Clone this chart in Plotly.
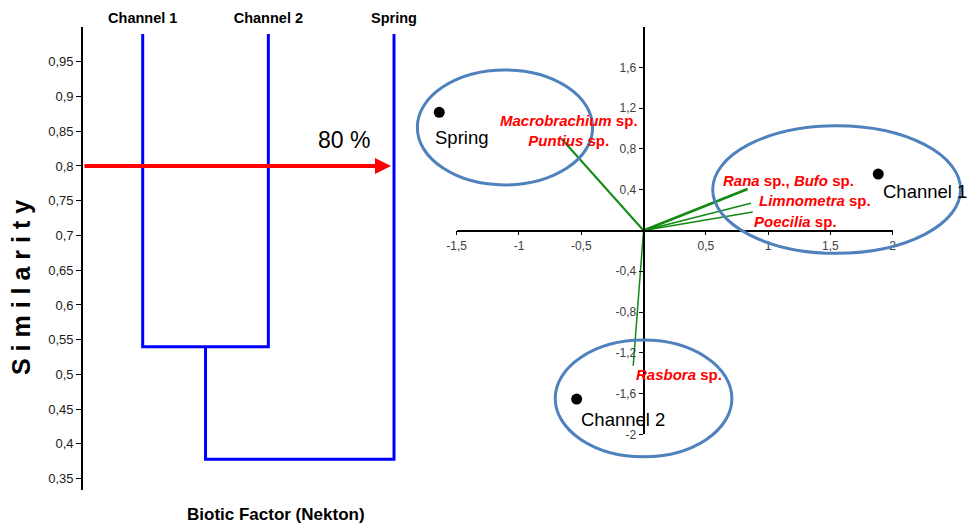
import plotly.graph_objects as go

W, H = 968, 526

# ---------------- data: dendrogram (left) ----------------
leaves = ["Channel 1", "Channel 2", "Spring"]
leaf_height = 0.99
# linkage: (left node, right node, similarity); nodes >= len(leaves) are earlier merges
linkage = [(0, 1, 0.540), (3, 2, 0.378)]
cut_level = 0.80
cut_label = "80 %"
sim_ticks = [0.35, 0.40, 0.45, 0.50, 0.55, 0.60, 0.65, 0.70, 0.75, 0.80, 0.85, 0.90, 0.95]
sim_ticktext = ["0,35", "0,4", "0,45", "0,5", "0,55", "0,6", "0,65", "0,7", "0,75", "0,8", "0,85", "0,9", "0,95"]

# ---------------- data: ordination biplot (right) ----------------
site_names = ["Spring", "Channel 1", "Channel 2"]
site_x = [-1.64, 1.884, -0.537]
site_y = [1.16, 0.554, -1.654]

species_labels = [
    "<b><i>Macrobrachium</i> sp.</b><br><b><i>Puntius</i> sp.</b>",
    "<b><i>Rana</i> sp., <i>Bufo</i> sp.</b>",
    "<b><i>Limnometra</i> sp.</b>",
    "<b><i>Poecilia</i> sp.</b>",
    "<b><i>Rasbora</i> sp.</b>",
]
species_x = [-0.657, 0.835, 0.862, 0.876, -0.083]
species_y = [0.898, 0.407, 0.267, 0.182, -1.327]

axis1_ticks = [-1.5, -1, -0.5, 0.5, 1, 1.5, 2]
axis1_ticktext = ["-1,5", "-1", "-0,5", "0,5", "1", "1,5", "2"]
axis2_ticks = [-2, -1.6, -1.2, -0.8, -0.4, 0.4, 0.8, 1.2, 1.6]
axis2_ticktext = ["-2", "-1,6", "-1,2", "-0,8", "-0,4", "0,4", "0,8", "1,2", "1,6"]

# ---------------- helpers ----------------
FONT = "Liberation Sans, Arial, sans-serif"
def fx(px):
    return px / W
def fy(py):
    return 1 - py / H

fig = go.Figure()

# ---- dendrogram lines (built from linkage) ----
leaf_pos = list(range(1, len(leaves) + 1))
node_x = {i: leaf_pos[i] for i in range(len(leaves))}
node_h = {i: leaf_height for i in range(len(leaves))}
dx, dy = [], []
for k, (a, b, h) in enumerate(linkage):
    dx += [node_x[a], node_x[a], node_x[b], node_x[b], None]
    dy += [node_h[a], h, h, node_h[b], None]
    nid = len(leaves) + k
    node_x[nid] = (node_x[a] + node_x[b]) / 2
    node_h[nid] = h
fig.add_trace(go.Scatter(x=dx, y=dy, mode="lines", xaxis="x", yaxis="y",
                         line=dict(color="#0000ff", width=3), hoverinfo="skip",
                         showlegend=False))

# ---- biplot vectors ----
vec_widths = [2, 2.6, 1.5, 1.5, 1.5]
for sx, sy, w in zip(species_x, species_y, vec_widths):
    fig.add_trace(go.Scatter(x=[0, sx], y=[0, sy], mode="lines", xaxis="x2", yaxis="y2",
                             line=dict(color="#118a11", width=w), hoverinfo="skip",
                             showlegend=False))

# ---- site points ----
fig.add_trace(go.Scatter(x=site_x, y=site_y, mode="markers", xaxis="x3", yaxis="y3",
                         marker=dict(color="black", size=11, symbol="circle"),
                         hoverinfo="skip", showlegend=False))

# ---------------- layout geometry ----------------
# left panel
L_x0, L_x1 = 83, 420
L_y_top, L_y_bot = 27, 490
leaf_px0, leaf_px1 = 142.7, 394.0
lscale = (leaf_px1 - leaf_px0) / (leaf_pos[-1] - leaf_pos[0])
L_range = [leaf_pos[0] - (leaf_px0 - L_x0) / lscale, leaf_pos[-1] + (L_x1 - leaf_px1) / lscale]

# right panel: visible axes
xr = [-1.5, 2.0]
yr = [-2.0, 2.0]
A_x0, A_x1 = 456.7, 892.7
A_y_top, A_y_bot = 26.7, 434.3
sxp = (A_x1 - A_x0) / (xr[1] - xr[0])
syp = (A_y_bot - A_y_top) / (yr[1] - yr[0])
zero_px = A_x0 + (0 - xr[0]) * sxp
zero_py = A_y_top + (yr[1] - 0) * syp
# helper (invisible) axes with same scale covering the whole right area
B_x0, B_x1 = 405, 968
B_y_top, B_y_bot = 8, 500
B_xr = [xr[0] + (B_x0 - A_x0) / sxp, xr[0] + (B_x1 - A_x0) / sxp]
B_yr = [yr[1] - (B_y_bot - A_y_top) / syp, yr[1] - (B_y_top - A_y_top) / syp]

tickfont_l = dict(family=FONT, size=13, color="#1a1a1a")
tickfont_r = dict(family=FONT, size=12, color="#404040")

fig.update_layout(
    width=W, height=H,
    margin=dict(l=0, r=0, t=0, b=0, pad=0, autoexpand=False),
    paper_bgcolor="white", plot_bgcolor="rgba(0,0,0,0)",
    showlegend=False,
    xaxis=dict(domain=[fx(L_x0), fx(L_x1)], range=L_range, side="top", anchor="y",
               tickvals=leaf_pos, ticktext=["<b>%s</b>" % s for s in leaves],
               tickfont=dict(family=FONT, size=14.5, color="black"),
               ticks="", showline=False, showgrid=False, zeroline=False, automargin=False),
    yaxis=dict(domain=[fy(L_y_bot), fy(L_y_top)], range=[0.3337, 1.0], anchor="x",
               tickvals=sim_ticks, ticktext=sim_ticktext, tickfont=tickfont_l,
               ticks="outside", ticklen=5, tickwidth=1.2, tickcolor="black",
               showline=True, linecolor="black", linewidth=1.6,
               showgrid=False, zeroline=False, automargin=False),
    xaxis2=dict(domain=[fx(A_x0), fx(A_x1)], range=xr, anchor="free", position=fy(zero_py),
                tickvals=axis1_ticks, ticktext=axis1_ticktext, tickfont=tickfont_r,
                ticks="outside", ticklen=4, tickwidth=1.2, tickcolor="black",
                showline=True, linecolor="black", linewidth=1.6,
                showgrid=False, zeroline=False, automargin=False),
    yaxis2=dict(domain=[fy(A_y_bot), fy(A_y_top)], range=yr, anchor="free", position=fx(zero_px),
                tickvals=axis2_ticks, ticktext=axis2_ticktext, tickfont=tickfont_r,
                ticks="outside", ticklen=4, tickwidth=1.2, tickcolor="black",
                showline=True, linecolor="black", linewidth=1.8,
                showgrid=False, zeroline=False, automargin=False),
    xaxis3=dict(domain=[fx(B_x0), fx(B_x1)], range=B_xr, anchor="y3", visible=False),
    yaxis3=dict(domain=[fy(B_y_bot), fy(B_y_top)], range=B_yr, anchor="x3", visible=False),
)

# ---------------- annotations ----------------
ann = []
# cut-level arrow
ann.append(dict(xref="x", yref="y", axref="x", ayref="y",
                x=leaf_pos[0] + (391 - leaf_px0) / lscale, y=cut_level,
                ax=L_range[0], ay=cut_level, text="", showarrow=True,
                arrowcolor="#ff0000", arrowwidth=4, arrowhead=2, arrowsize=0.8))
ann.append(dict(xref="x", yref="y", x=leaf_pos[0] + (344 - leaf_px0) / lscale, y=0.8377,
                text=cut_label, showarrow=False, xanchor="center", yanchor="middle",
                font=dict(family=FONT, size=23, color="black")))
# axis titles of left panel
ann.append(dict(xref="paper", yref="paper", x=fx(21), y=fy(288), textangle=-90,
                xanchor="center", yanchor="middle",
                text="<b>S i m i l a r i t y</b>", showarrow=False,
                font=dict(family=FONT, size=25, color="black")))
ann.append(dict(xref="paper", yref="paper", x=fx(276), y=fy(514),
                xanchor="center", yanchor="middle",
                text="<b>Biotic Factor (Nekton)</b>", showarrow=False,
                font=dict(family=FONT, size=17, color="black")))

# site labels
site_label_pos = [(-1.465, 0.908, "center"), (1.905, 0.378, "left"), (-0.165, -1.850, "center")]
for name, (lx, ly, anc) in zip(site_names, site_label_pos):
    ann.append(dict(xref="x3", yref="y3", x=lx, y=ly, text=name, showarrow=False,
                    xanchor=anc, yanchor="middle",
                    font=dict(family=FONT, size=18.5, color="black")))

# species labels
species_label_pos = [(-0.600, 0.986), (1.167, 0.486), (1.376, 0.290), (1.219, 0.093), (0.284, -1.418)]
for lab, (lx, ly) in zip(species_labels, species_label_pos):
    ann.append(dict(xref="x3", yref="y3", x=lx, y=ly, text=lab, showarrow=False,
                    xanchor="center", yanchor="middle",
                    font=dict(family=FONT, size=15, color="#ff0000")))
fig.update_layout(annotations=ann)

# ---------------- group ellipses ----------------
ellipses = [(-1.816, -0.409, 0.447, 1.575), (0.555, 2.545, -0.224, 1.028), (-0.709, 0.709, -2.22, -1.075)]
for x0, x1, y0, y1 in ellipses:
    fig.add_shape(type="circle", xref="x3", yref="y3", x0=x0, x1=x1, y0=y0, y1=y1,
                  line=dict(color="#4f81bd", width=3), layer="above")

fig.write_html("out.html", config={"displayModeBar": False},
               post_script="document.body.style.margin='0';document.body.style.overflow='hidden';")
